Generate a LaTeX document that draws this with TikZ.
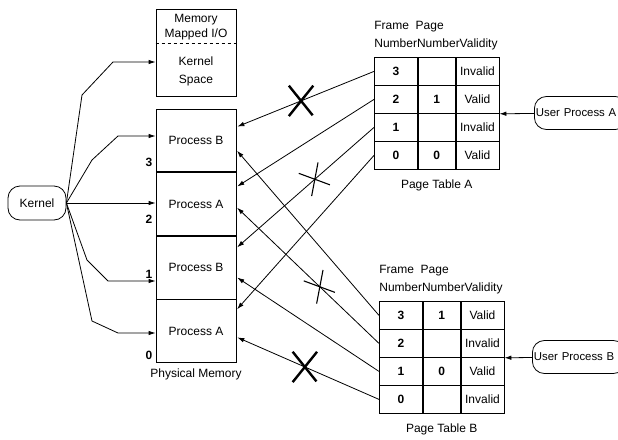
\documentclass[tikz,border=0pt]{standalone}
\usepackage{fontspec}
\setmainfont{Liberation Sans}
\usetikzlibrary{arrows.meta,positioning,shapes.misc}

\begin{document}
\begin{tikzpicture}[x=1pt,y=-1pt,>={Latex[length=7pt,width=4.5pt]},line width=0.8pt,
  every node/.style={font=\fontsize{12}{15}\selectfont},
  frame node/.style={draw,minimum width=80pt,minimum height=62.75pt,inner sep=0pt},
  cell node/.style={draw,minimum height=28pt,inner sep=0pt},
  round node/.style={draw,rounded corners=12pt,minimum height=33pt,inner xsep=2pt},
  user node/.style={round node,anchor=west,text width=90pt,align=left,inner xsep=1.5pt,
    font=\fontsize{11.4}{14}\selectfont},
  num node/.style={anchor=south east,inner sep=0pt,font=\bfseries\fontsize{12}{15}\selectfont},
  head node/.style={anchor=south west,inner sep=0pt,align=left,font=\fontsize{12}{18}\selectfont},
  map/.style={->,shorten >=1pt},
  big x/.style={draw,cross out,-,line width=2.4pt,minimum width=22pt,minimum height=28pt,inner sep=0pt},
  thin x/.style={draw,cross out,-,line width=1.1pt,minimum width=21pt,minimum height=25pt,inner sep=0pt,rotate=29.5}]

  \useasboundingbox (0,0) rectangle (618,439);

  % physical memory
  \node[frame node,minimum height=87pt] (kspace) at (196,52.5) {};
  \draw[dashed] (kspace.west |- 0,43) -- (kspace.east |- 0,43);
  \node[align=center] (mmio) at (196,27) {Memory\\Mapped I/O};
  \node[align=center] (kstext) at (196,71) {Kernel\\[3pt]Space};

  \node[frame node] (f3) at (196,140.5) {Process B};
  \node[frame node,below=0pt of f3] (f2) {Process A};
  \node[frame node,below=0pt of f2] (f1) {Process B};
  \node[frame node,below=0pt of f1] (f0) {Process A};
  \foreach \n/\s in {3/5,2/12,1/20,0/3}
    \node[num node] (n\n) at ([xshift=-3pt,yshift=\s pt]f\n.south west) {\n};
  \node[below=2pt of f0] (pmem) {Physical Memory};

  % kernel
  \node[round node,minimum width=58pt,minimum height=34pt] (kernel) at (37,203) {Kernel};
  \draw[->] (kernel.east) -- (82,95) -- (113,62) -- (kspace.west |- 0,62);
  \draw[->] (kernel.east) -- (92,160) -- (118,136) -- (f3.west |- 0,136);
  \draw[->] (kernel.east) -- (f2.west |- kernel.east);
  \draw[->] (kernel.east) -- (87,260) -- (108,281) -- (f1.west |- 0,281);
  \draw[->] (kernel.east) -- (92,321) -- (118,333) -- (f0.west |- 0,333);

  % page table A
  \foreach \f/\p/\v [count=\i from 0] in {3//Invalid,2/1/Valid,1//Invalid,0/0/Valid} {
    \node[cell node,minimum width=43pt,anchor=north west] (A-f\f) at (374,{57+28*\i}) {\textbf{\f}};
    \node[cell node,minimum width=37pt,right=0pt of A-f\f] (A-p\f) {\textbf{\p}};
    \node[cell node,minimum width=43pt,right=0pt of A-p\f] (A-v\f) {\v};
  }
  \node[head node] (A-head) at ([yshift=7pt]A-f3.north west) {Frame~~Page\\NumberNumberValidity};
  \node[below=6pt of A-p0] (A-name) {Page Table A};

  % page table B
  \foreach \f/\p/\v [count=\i from 0] in {3/1/Valid,2//Invalid,1/0/Valid,0//Invalid} {
    \node[cell node,minimum width=43pt,anchor=north west] (B-f\f) at (379,{301+28*\i}) {\textbf{\f}};
    \node[cell node,minimum width=37pt,right=0pt of B-f\f] (B-p\f) {\textbf{\p}};
    \node[cell node,minimum width=43pt,right=0pt of B-p\f] (B-v\f) {\v};
  }
  \node[head node] (B-head) at ([yshift=7pt]B-f3.north west) {Frame~~Page\\NumberNumberValidity};
  \node[below=6pt of B-p0] (B-name) {Page Table B};

  % user processes
  \node[user node] (upA) at (534,113) {User Process A};
  \node[user node] (upB) at (532,357) {User Process B};
  \draw[->] (upA) -- (A-v2.south east);
  \draw[->] (upB) -- (B-v2.south east);

  % mappings
  \draw[map] (A-f3.west) -- node[big x,pos=0.53] (xA3) {} (f3.east |- 0,127);
  \draw[map] (A-f2.west) -- (f2.east |- 0,187);
  \draw[map] (A-f1.west) -- node[thin x,pos=0.43] (xA1) {} (f1.east |- 0,248);
  \draw[map] (A-f0.west) -- (f0.east |- 0,310);
  \draw[map] (B-f3.west) -- (f3.east |- 0,150);
  \draw[map] (B-f2.west) -- node[thin x,pos=0.415] (xB2) {} (f2.east |- 0,207);
  \draw[map] (B-f1.west) -- (f1.east |- 0,277);
  \draw[map] (B-f0.west) -- node[big x,pos=0.52] (xB0) {} (f0.east |- 0,337);
\end{tikzpicture}
\end{document}
